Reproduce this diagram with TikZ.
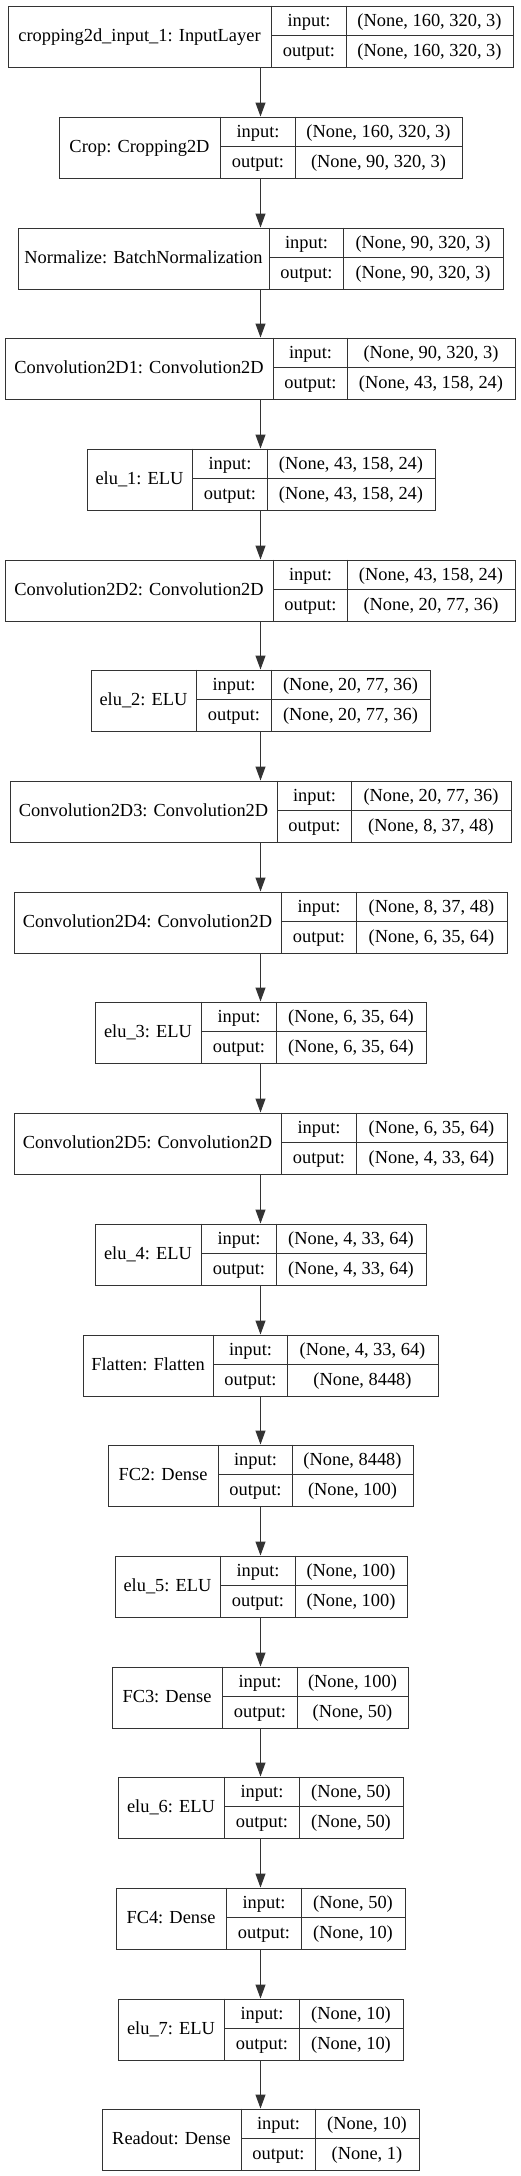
\documentclass[tikz,border=0pt]{standalone}
\usepackage{fontspec}
\setmainfont{Liberation Serif}
\usetikzlibrary{arrows.meta}
\tikzset{
  layerbox/.style={draw=black!80, line width=1.1pt, rectangle, inner sep=0pt, anchor=north west, minimum height=61pt},
  cellline/.style={draw=black!80, line width=1.1pt},
  txt/.style={inner sep=0pt, anchor=base, font=\fontsize{18.4pt}{22pt}\selectfont, text=black},
  arr/.style={draw=black!80, line width=1.1pt, -{Triangle[length=14pt, width=10pt]}}
}
\newcommand\layer[8]{%
  \pgfmathsetmacro\tp{floor(5.7+110.7*(#1-1))+0.5}%
  \pgfmathsetmacro\bt{\tp+61}%
  \pgfmathsetmacro\md{\tp+30}%
  \pgfmathsetmacro\bla{\tp+30.5+5.6}%
  \pgfmathsetmacro\blb{\tp+15.25+5.6}%
  \pgfmathsetmacro\blc{\tp+45.75+5.6}%
  \pgfmathsetmacro\xa{floor(#2)+0.5}%
  \pgfmathsetmacro\xb{floor(#3)+0.5}%
  \pgfmathsetmacro\xc{floor(#4)+0.5}%
  \pgfmathsetmacro\xd{floor(#5)+0.5}%
  \node[layerbox, minimum width={(\xd-\xa)*1pt}] (l#1) at (\xa pt,-\tp pt) {};
  \draw[cellline] (\xb pt,-\tp pt) -- (\xb pt,-\bt pt);
  \draw[cellline] (\xc pt,-\tp pt) -- (\xc pt,-\bt pt);
  \draw[cellline] (\xb pt,-\md pt) -- (\xd pt,-\md pt);
  \node[txt] (name#1) at ({(\xa+\xb)/2*1pt},{-\bla*1pt}) {#6};
  \node[txt] (inl#1) at ({(\xb+\xc)/2*1pt},{-\blb*1pt}) {input:};
  \node[txt] (outl#1) at ({(\xb+\xc)/2*1pt},{-\blc*1pt}) {output:};
  \node[txt] (inv#1) at ({(\xc+\xd)/2*1pt},{-\blb*1pt}) {#7};
  \node[txt] (outv#1) at ({(\xc+\xd)/2*1pt},{-\blc*1pt}) {#8};
}
\begin{document}
\begin{tikzpicture}
\fill[white] (0,0) rectangle (520pt,-2176pt);
\useasboundingbox (0,0) rectangle (520pt,-2176pt);
\layer{1}{7.3}{271}{346}{512.3}{cropping2d\_input\_1: InputLayer}{(None, 160, 320, 3)}{(None, 160, 320, 3)}
\layer{2}{58}{220.3}{295.3}{461.7}{Crop: Cropping2D}{(None, 160, 320, 3)}{(None, 90, 320, 3)}
\layer{3}{17.3}{269}{343.7}{502.3}{Normalize: BatchNormalization}{(None, 90, 320, 3)}{(None, 90, 320, 3)}
\layer{4}{4.7}{273.3}{347.7}{514.3}{Convolution2D1: Convolution2D}{(None, 90, 320, 3)}{(None, 43, 158, 24)}
\layer{5}{86}{192.7}{267.3}{434}{elu\_1: ELU}{(None, 43, 158, 24)}{(None, 43, 158, 24)}
\layer{6}{4.7}{273.3}{347.7}{514.3}{Convolution2D2: Convolution2D}{(None, 43, 158, 24)}{(None, 20, 77, 36)}
\layer{7}{90}{196.7}{271.3}{429.7}{elu\_2: ELU}{(None, 20, 77, 36)}{(None, 20, 77, 36)}
\layer{8}{9}{277}{351.7}{510.3}{Convolution2D3: Convolution2D}{(None, 20, 77, 36)}{(None, 8, 37, 48)}
\layer{9}{13.7}{281.7}{356.3}{506}{Convolution2D4: Convolution2D}{(None, 8, 37, 48)}{(None, 6, 35, 64)}
\layer{10}{94.7}{201.3}{276}{425.3}{elu\_3: ELU}{(None, 6, 35, 64)}{(None, 6, 35, 64)}
\layer{11}{13.7}{281.7}{356.3}{506}{Convolution2D5: Convolution2D}{(None, 6, 35, 64)}{(None, 4, 33, 64)}
\layer{12}{94.7}{201.3}{276}{425.3}{elu\_4: ELU}{(None, 4, 33, 64)}{(None, 4, 33, 64)}
\layer{13}{82.3}{213.3}{287.7}{437.3}{Flatten: Flatten}{(None, 4, 33, 64)}{(None, 8448)}
\layer{14}{107}{218}{292.3}{412.7}{FC2: Dense}{(None, 8448)}{(None, 100)}
\layer{15}{114}{220.3}{295.3}{406}{elu\_5: ELU}{(None, 100)}{(None, 100)}
\layer{16}{111.7}{222.3}{297}{407.7}{FC3: Dense}{(None, 100)}{(None, 50)}
\layer{17}{117.7}{224.7}{299.3}{402}{elu\_6: ELU}{(None, 50)}{(None, 50)}
\layer{18}{115.7}{226.3}{301}{404}{FC4: Dense}{(None, 50)}{(None, 10)}
\layer{19}{117.7}{224.7}{299.3}{402}{elu\_7: ELU}{(None, 10)}{(None, 10)}
\layer{20}{101}{241}{315.7}{418.7}{Readout: Dense}{(None, 10)}{(None, 1)}
\coordinate (ax) at (260.5pt,0);
\foreach \i [evaluate=\i as \j using int(\i+1)] in {1,...,19} {
  \draw[arr] (l\i.south -| ax) -- (l\j.north -| ax);
}
\end{tikzpicture}
\end{document}
